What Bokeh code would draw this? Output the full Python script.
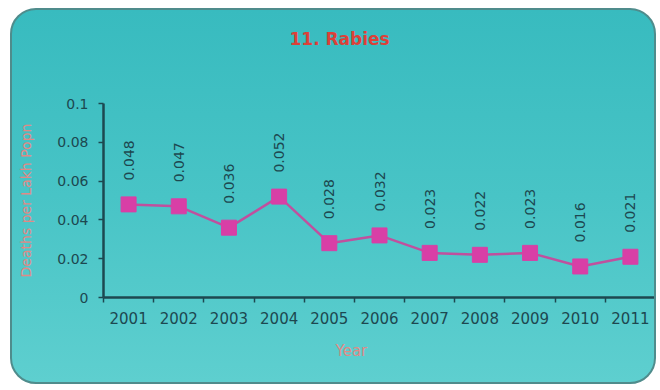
from bokeh.plotting import figure
from bokeh.models import Range1d, FixedTicker, ColumnDataSource, Title
from bokeh.core.properties import value
from bokeh.embed import file_html
from bokeh.resources import INLINE
import math

years = [2001, 2002, 2003, 2004, 2005, 2006, 2007, 2008, 2009, 2010, 2011]
deaths = [0.048, 0.047, 0.036, 0.052, 0.028, 0.032, 0.023, 0.022, 0.023, 0.016, 0.021]
value_labels = ["0.048", "0.047", "0.036", "0.052", "0.028", "0.032", "0.023", "0.022", "0.023", "0.016", "0.021"]
y_ticks = [0, 0.02, 0.04, 0.06, 0.08, 0.1]
y_tick_labels = ["0", "0.02", "0.04", "0.06", "0.08", "0.1"]
title_text = "11. Rabies"
x_label = "Year"
y_label = "Deaths per Lakh Popn"

FONT = "DejaVu Sans"
DARK = "#1d4850"
PINK_TXT = "#e08a86"

src = ColumnDataSource(dict(x=years, y=deaths, lab=value_labels))

p = figure(width=646, height=376, output_backend="svg", toolbar_location=None,
           x_range=Range1d(years[0] - 0.5, years[-1] + 0.5), y_range=Range1d(0, 0.1),
           min_border_left=91, min_border_right=3, min_border_top=93, min_border_bottom=89)
p.styles = {"border-radius": "26px", "border": "2px solid #4f8c8c", "overflow": "hidden",
            "background": "linear-gradient(180deg, #38bbbf 0%, #48c4c6 50%, #5ecfcf 100%)",
            "margin-left": "10px", "margin-top": "8px"}
p.background_fill_alpha = 0
p.border_fill_alpha = 0
p.outline_line_color = None
p.grid.visible = False

# spacer between frame and title, then the title itself
spacer = Title(text=" ", text_font=FONT, text_font_size="14px", standoff=33)
p.add_layout(spacer, "above")
t = Title(text=title_text, align="left", offset=186, text_color="#dd4038",
          text_font=FONT, text_font_size="17px", text_font_style="bold", standoff=8)
p.add_layout(t, "above")

# axes
xa = p.xaxis[0]
xa.ticker = FixedTicker(ticks=years, minor_ticks=[yr + 0.5 for yr in [years[0] - 1] + years])
xa.major_tick_out = 0
xa.major_tick_in = 0
xa.minor_tick_out = 5
xa.minor_tick_in = 0
xa.minor_tick_line_color = DARK
xa.minor_tick_line_width = 1.5
xa.axis_line_color = DARK
xa.axis_line_width = 2.5
xa.major_label_text_font = FONT
xa.major_label_text_font_size = "15px"
xa.major_label_text_color = DARK
xa.major_label_standoff = 9
xa.major_label_overrides = {yr: str(yr) for yr in years}

ya = p.yaxis[0]
ya.ticker = FixedTicker(ticks=y_ticks, minor_ticks=[])
ya.major_label_overrides = {v: s for v, s in zip(y_ticks, y_tick_labels)}
ya.major_tick_out = 5
ya.major_tick_in = 0
ya.major_tick_line_color = DARK
ya.major_tick_line_width = 1.5
ya.axis_line_color = DARK
ya.axis_line_width = 2.5
ya.major_label_text_font = FONT
ya.major_label_text_font_size = "14px"
ya.major_label_text_color = DARK
ya.major_label_standoff = 10
ya.axis_label = y_label
ya.axis_label_text_font = FONT
ya.axis_label_text_font_size = "14px"
ya.axis_label_text_font_style = "normal"
ya.axis_label_text_color = PINK_TXT
ya.axis_label_standoff = 20

xt = Title(text=x_label, align="left", offset=232, text_color=PINK_TXT,
           text_font=FONT, text_font_size="15px", text_font_style="normal", standoff=26)
p.add_layout(xt, "below")

p.line("x", "y", source=src, line_color="#c0509e", line_width=2.5)
p.scatter("x", "y", source=src, marker="square", size=15, fill_color="#d83fa6",
          line_color="#d83fa6")
p.text("x", "y", text="lab", source=src, angle=math.pi / 2, y_offset=-24,
       text_align="left", text_baseline="middle", text_font=value(FONT),
       text_font_size="14px", text_color=DARK)

open("out.html", "w").write(file_html(p, INLINE))
